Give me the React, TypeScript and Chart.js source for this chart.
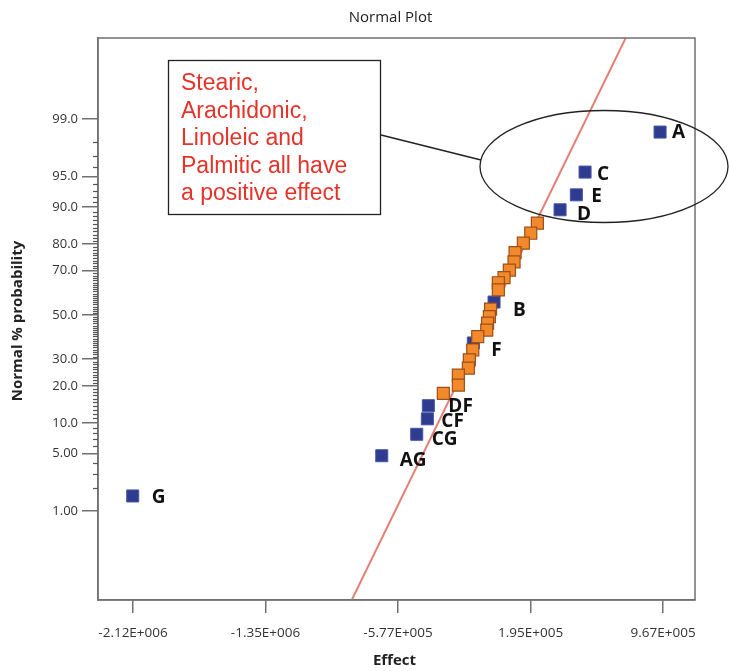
import React, { useEffect, useRef } from 'react';
import { Chart, registerables } from 'chart.js';

Chart.register(...registerables);

// ---- Data ----
const EFFECT_LABELS = ['A', 'C', 'E', 'D', 'B', 'F', 'DF', 'CF', 'CG', 'AG', 'G'];
const LABELED_EFFECTS = [949500, 512700, 462000, 367100, -17400, -137900, -400000, -405800, -467600, -671400, -2121700];
const LABELED_PROBS = [98.5, 95.5, 92.3, 89.4, 56.1, 37.0, 14.1, 10.9, 7.85, 4.75, 1.59];

const OTHER_EFFECTS = [235000, 196400, 153300, 105000, 99100, 71800, 40900, 7700, 7700, -37700, -44700, -55200, -59900, -112300, -141400, -161200, -167000, -225300, -225300, -312700];
const OTHER_PROBS = [86.2, 83.4, 80.3, 77.0, 73.6, 70.3, 67.1, 64.9, 61.7, 52.8, 49.2, 46.2, 42.9, 39.9, 33.9, 29.7, 26.4, 23.8, 20.3, 17.6];

const FIT_EFFECTS = [-927000, 853000];
const FIT_PROBS = [0.01, 99.99];

const Y_TICK_PROBS = [1, 5, 10, 20, 30, 50, 70, 80, 90, 95, 99];
const Y_TICK_LABELS = ['1.00', '5.00', '10.0', '20.0', '30.0', '50.0', '70.0', '80.0', '90.0', '95.0', '99.0'];
const X_TICK_VALUES = [-2120000, -1348250, -576500, 195250, 967000];
const X_TICK_LABELS = ['-2.12E+006', '-1.35E+006', '-5.77E+005', '1.95E+005', '9.67E+005'];
const X_RANGE = [-2324000, 1153000];
const Z_RANGE = [-3.381, 3.286];

const TITLE = 'Normal Plot';
const X_TITLE = 'Effect';
const Y_TITLE = 'Normal % probability';
const ANNOTATION_LINES = ['Stearic,', 'Arachidonic,', 'Linoleic and', 'Palmitic all have', 'a positive effect'];

// label offsets (styling): [dx, dy] from square centre
const LABEL_OFFSETS: Record<string, [number, number]> = {
  A: [12, 1], C: [12, 3], E: [15, 2], D: [17, 5], B: [19, 9], F: [18, 8],
  DF: [20, 1], CF: [14, 3], CG: [15, 5], AG: [18, 5], G: [19, 1.5],
};

// inverse normal CDF (axis transform for a normal-probability scale)
function probit(pct: number): number {
  const p = pct / 100;
  const a = [-3.969683028665376e1, 2.209460984245205e2, -2.759285104469687e2, 1.38357751867269e2, -3.066479806614716e1, 2.506628277459239];
  const b = [-5.447609879822406e1, 1.615858368580409e2, -1.556989798598866e2, 6.680131188771972e1, -1.328068155288572e1];
  const c = [-7.784894002430293e-3, -3.223964580411365e-1, -2.400758277161838, -2.549732539343734, 4.374664141464968, 2.938163982698783];
  const d = [7.784695709041462e-3, 3.224671290700398e-1, 2.445134137142996, 3.754408661907416];
  const pl = 0.02425;
  if (p < pl) {
    const q = Math.sqrt(-2 * Math.log(p));
    return (((((c[0] * q + c[1]) * q + c[2]) * q + c[3]) * q + c[4]) * q + c[5]) / ((((d[0] * q + d[1]) * q + d[2]) * q + d[3]) * q + 1);
  }
  if (p > 1 - pl) {
    const q = Math.sqrt(-2 * Math.log(1 - p));
    return -(((((c[0] * q + c[1]) * q + c[2]) * q + c[3]) * q + c[4]) * q + c[5]) / ((((d[0] * q + d[1]) * q + d[2]) * q + d[3]) * q + 1);
  }
  const q = p - 0.5;
  const r = q * q;
  return ((((((a[0] * r + a[1]) * r + a[2]) * r + a[3]) * r + a[4]) * r + a[5]) * q) / (((((b[0] * r + b[1]) * r + b[2]) * r + b[3]) * r + b[4]) * r + 1);
}

const AXIS_COLOR = '#707070';
const FONT = '"Open Sans", "DejaVu Sans", sans-serif';

const overlayPlugin = {
  id: 'overlay',
  afterDraw(chart: any) {
    const { ctx, chartArea: a, scales } = chart;
    const y = scales.y;
    ctx.save();
    // plot frame
    ctx.strokeStyle = AXIS_COLOR;
    ctx.lineWidth = 1.5;
    ctx.strokeRect(a.left, a.top, a.right - a.left, a.bottom - a.top);
    // minor ticks on probability axis
    ctx.lineWidth = 1.2;
    ctx.strokeStyle = '#555';
    for (let p = 2; p <= 98; p++) {
      if (Y_TICK_PROBS.includes(p)) continue;
      const py = Math.round(y.getPixelForValue(probit(p))) + 0.5;
      ctx.beginPath();
      ctx.moveTo(a.left - 5, py);
      ctx.lineTo(a.left, py);
      ctx.stroke();
    }
    // titles
    ctx.fillStyle = '#222';
    ctx.textAlign = 'center';
    ctx.textBaseline = 'middle';
    ctx.font = `15px ${FONT}`;
    ctx.fillText(TITLE, (a.left + a.right) / 2 - 6, 18);
    ctx.font = `bold 15px ${FONT}`;
    ctx.fillText(X_TITLE, (a.left + a.right) / 2 - 2, 661);
    ctx.save();
    ctx.translate(18, 321);
    ctx.rotate(-Math.PI / 2);
    ctx.fillText(Y_TITLE, 0, 0);
    ctx.restore();
    // point labels
    const meta = chart.getDatasetMeta(1);
    ctx.fillStyle = '#111';
    ctx.textAlign = 'left';
    ctx.font = `bold 19px ${FONT}`;
    meta.data.forEach((el: any, i: number) => {
      const lab = EFFECT_LABELS[i];
      const off = LABEL_OFFSETS[lab] || [15, 3];
      ctx.fillText(lab, el.x + off[0], el.y + off[1]);
    });
    // annotation
    ctx.strokeStyle = '#222';
    ctx.lineWidth = 1.3;
    ctx.strokeRect(168.5, 60.5, 212, 154);
    ctx.beginPath();
    ctx.moveTo(381, 135);
    ctx.lineTo(481, 160);
    ctx.stroke();
    ctx.beginPath();
    ctx.ellipse(604, 166.5, 124, 56, 0, 0, Math.PI * 2);
    ctx.stroke();
    ctx.fillStyle = '#e5332a';
    ctx.font = '23px "Liberation Sans", Arial, sans-serif';
    ctx.textBaseline = 'middle';
    ANNOTATION_LINES.forEach((t, i) => ctx.fillText(t, 181, 84 + i * 27.5));
    ctx.restore();
  },
};

export default function App() {
  const ref = useRef<HTMLCanvasElement>(null);
  useEffect(() => {
    const chart = new Chart(ref.current as HTMLCanvasElement, {
      type: 'scatter',
      data: {
        datasets: [
          {
            label: 'other',
            data: OTHER_EFFECTS.map((v, i) => ({ x: v, y: probit(OTHER_PROBS[i]) })),
            pointStyle: 'rect',
            pointRadius: 8.5,
            backgroundColor: '#f28a2b',
            borderColor: '#9c4f18',
            borderWidth: 1.2,
          },
          {
            label: 'labeled',
            data: LABELED_EFFECTS.map((v, i) => ({ x: v, y: probit(LABELED_PROBS[i]) })),
            pointStyle: 'rect',
            pointRadius: 8.5,
            backgroundColor: '#2e3b8e',
            borderColor: '#4655a6',
            borderWidth: 1,
          },
          {
            label: 'fit',
            data: FIT_EFFECTS.map((v, i) => ({ x: v, y: probit(FIT_PROBS[i]) })),
            showLine: true,
            pointRadius: 0,
            borderColor: '#e47e77',
            borderWidth: 2,
          } as any,
        ],
      },
      options: {
        responsive: false,
        animation: false,
        events: [],
        layout: { padding: { top: 38, right: 34, left: 0, bottom: 0 } },
        plugins: { legend: { display: false }, title: { display: false }, tooltip: { enabled: false } },
        scales: {
          x: {
            type: 'linear',
            min: X_RANGE[0],
            max: X_RANGE[1],
            afterBuildTicks: (s: any) => {
              s.ticks = X_TICK_VALUES.map((v) => ({ value: v }));
            },
            afterFit: (s: any) => {
              s.height = 71;
            },
            ticks: {
              autoSkip: false,
              maxRotation: 0,
              padding: 12,
              color: '#333',
              font: { family: FONT, size: 13.5 },
              callback: (_v: any, i: number) => X_TICK_LABELS[i],
            },
            grid: { drawOnChartArea: false, drawTicks: true, tickLength: 13, color: AXIS_COLOR, lineWidth: 1.5 },
            border: { display: true, color: AXIS_COLOR, width: 1.5 },
          },
          y: {
            type: 'linear',
            min: Z_RANGE[0],
            max: Z_RANGE[1],
            afterBuildTicks: (s: any) => {
              s.ticks = Y_TICK_PROBS.map((p) => ({ value: probit(p) }));
            },
            afterFit: (s: any) => {
              s.width = 98;
            },
            ticks: {
              autoSkip: false,
              padding: 4,
              color: '#333',
              font: { family: FONT, size: 13 },
              callback: (_v: any, i: number) => Y_TICK_LABELS[i],
            },
            grid: { drawOnChartArea: false, drawTicks: true, tickLength: 16, color: AXIS_COLOR, lineWidth: 1.5 },
            border: { display: true, color: AXIS_COLOR, width: 1.5 },
          },
        },
      },
      plugins: [overlayPlugin],
    } as any);
    return () => chart.destroy();
  }, []);
  return (
    <div style={{ position: 'absolute', left: 0, top: 0, width: 729, height: 671, background: '#fff' }}>
      <canvas ref={ref} width={729} height={671} style={{ width: 729, height: 671, display: 'block' }} />
    </div>
  );
}
